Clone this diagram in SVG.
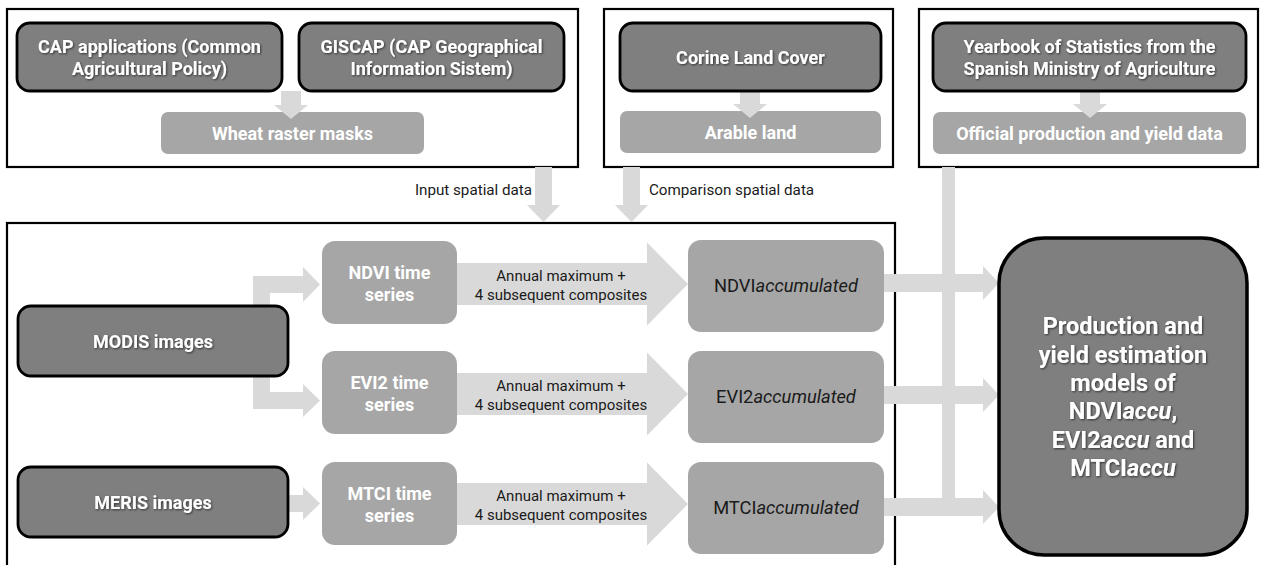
<svg xmlns="http://www.w3.org/2000/svg" width="1264" height="565" viewBox="0 0 1264 565">
<defs>
<filter id="sh" x="-10%" y="-20%" width="120%" height="140%">
<feDropShadow dx="1" dy="1" stdDeviation="0.8" flood-color="#000" flood-opacity="0.6"/>
</filter>
<style>
.frame{fill:#fff;stroke:#000;stroke-width:2.2}
.dark{fill:#7f7f7f;stroke:#000;stroke-width:2.8}
.mid{fill:#a6a6a6}
.arr{fill:#d9d9d9}
.wt{font-family:Roboto,"Liberation Sans",sans-serif;font-weight:bold;fill:#fff;text-anchor:middle}
.dt{font-family:Roboto,"Liberation Sans",sans-serif;fill:#1a1a1a;text-anchor:middle}
</style>
</defs>
<rect width="1264" height="565" fill="#fff"/>

<!-- frames -->
<g id="frame-input">
<rect class="frame" x="7" y="9" width="571" height="158"/>
</g>
<g id="frame-comparison">
<rect class="frame" x="604" y="9" width="289" height="158"/>
</g>
<g id="frame-official">
<rect class="frame" x="919" y="9" width="339" height="158"/>
</g>
<g id="frame-processing">
<rect class="frame" x="7" y="223" width="888" height="360"/>
</g>

<!-- connectors -->
<g id="connectors">
<polygon class="arr" points="535,167 552,167 552,205 560,205 543.5,222 527,205 535,205"/>
<polygon class="arr" points="623,167 640,167 640,205 648,205 631.5,222 615,205 623,205"/>
<rect class="arr" x="942" y="167" width="13" height="349"/>
<polygon class="arr" points="253,276 303,276 303,267 320,284.5 303,302 303,293 270,293 270,392 303,392 303,384 320,400.5 303,417 303,409 253,409"/>
<polygon class="arr" points="280,495 303,495 303,487 320,503.5 303,520 303,512 280,512"/>
<polygon class="arr" points="457,263 647,263 647,242.5 688,284 647,325.5 647,305 457,305"/>
<polygon class="arr" points="457,373 647,373 647,352.5 688,394 647,435.5 647,415 457,415"/>
<polygon class="arr" points="457,483 647,483 647,462.5 688,504 647,545.5 647,525 457,525"/>
<polygon class="arr" points="884,274 983,274 983,266 999,283 983,300 983,292 884,292"/>
<polygon class="arr" points="884,386 983,386 983,378 999,395 983,412 983,404 884,404"/>
<polygon class="arr" points="884,498 983,498 983,490 999,507 983,524 983,516 884,516"/>
<text class="dt" x="473.5" y="195" font-size="15.2">Input spatial data</text>
<text class="dt" x="731.5" y="195" font-size="15.2">Comparison spatial data</text>
</g>

<!-- top nodes -->
<g id="wheat-masks">
<rect class="mid" x="161" y="112" width="263" height="42" rx="7"/>
<text class="wt" x="292.5" y="139.5" font-size="18">Wheat raster masks</text>
</g>
<g id="cap-to-wheat">
<polygon class="arr" points="281,91 301,91 301,105 308,105 291,119 274,105 281,105"/>
</g>
<g id="cap-applications">
<rect class="dark" x="17" y="23" width="265" height="68" rx="13"/>
<text class="wt" x="149.5" y="53" font-size="18" filter="url(#sh)">CAP applications (Common</text>
<text class="wt" x="149.5" y="75" font-size="18" filter="url(#sh)">Agricultural Policy)</text>
</g>
<g id="giscap">
<rect class="dark" x="299" y="23" width="265" height="68" rx="13"/>
<text class="wt" x="431.5" y="53" font-size="18" filter="url(#sh)">GISCAP (CAP Geographical</text>
<text class="wt" x="431.5" y="75" font-size="18" filter="url(#sh)">Information Sistem)</text>
</g>

<g id="arable-land">
<rect class="mid" x="620" y="111" width="261" height="42" rx="7"/>
<polygon class="arr" points="740,91 760,91 760,104 767,104 750,118 733,104 740,104"/>
<text class="wt" x="750.5" y="138.5" font-size="18">Arable land</text>
</g>
<g id="corine">
<rect class="dark" x="620" y="23" width="261" height="68" rx="13"/>
<text class="wt" x="750.5" y="63.5" font-size="18" filter="url(#sh)">Corine Land Cover</text>
</g>

<g id="official-data">
<rect class="mid" x="933" y="112" width="313" height="42" rx="7"/>
<polygon class="arr" points="1080,91 1100,91 1100,104 1107,104 1090,118 1073,104 1080,104"/>
<text class="wt" x="1089.5" y="139.5" font-size="18">Official production and yield data</text>
</g>
<g id="yearbook">
<rect class="dark" x="933" y="23" width="313" height="68" rx="13"/>
<text class="wt" x="1089.5" y="53" font-size="18" filter="url(#sh)">Yearbook of Statistics from the</text>
<text class="wt" x="1089.5" y="75" font-size="18" filter="url(#sh)">Spanish Ministry of Agriculture</text>
</g>

<!-- processing nodes -->
<g id="modis">
<rect class="dark" x="18" y="306" width="270" height="70" rx="13"/>
<text class="wt" x="153" y="347.5" font-size="18" filter="url(#sh)">MODIS images</text>
</g>
<g id="meris">
<rect class="dark" x="18" y="467" width="270" height="70" rx="13"/>
<text class="wt" x="153" y="508.5" font-size="18" filter="url(#sh)">MERIS images</text>
</g>

<g id="ndvi-ts">
<rect class="mid" x="322" y="241" width="135" height="83" rx="13"/>
<text class="wt" x="389.5" y="278.5" font-size="18">NDVI time</text>
<text class="wt" x="389.5" y="300.5" font-size="18">series</text>
</g>
<g id="evi2-ts">
<rect class="mid" x="322" y="351" width="135" height="83" rx="13"/>
<text class="wt" x="389.5" y="388.5" font-size="18">EVI2 time</text>
<text class="wt" x="389.5" y="410.5" font-size="18">series</text>
</g>
<g id="mtci-ts">
<rect class="mid" x="322" y="462" width="135" height="83" rx="13"/>
<text class="wt" x="389.5" y="499.5" font-size="18">MTCI time</text>
<text class="wt" x="389.5" y="521.5" font-size="18">series</text>
</g>

<g id="labels-annual">
<text class="dt" x="561" y="281" font-size="15">Annual maximum +</text>
<text class="dt" x="561" y="300" font-size="15">4 subsequent composites</text>
<text class="dt" x="561" y="391" font-size="15">Annual maximum +</text>
<text class="dt" x="561" y="410" font-size="15">4 subsequent composites</text>
<text class="dt" x="561" y="501" font-size="15">Annual maximum +</text>
<text class="dt" x="561" y="520" font-size="15">4 subsequent composites</text>
</g>

<g id="ndvi-acc">
<rect class="mid" x="688" y="240" width="196" height="92" rx="13"/>
<text class="dt" x="786" y="292" font-size="18.3">NDVI<tspan font-style="italic">accumulated</tspan></text>
</g>
<g id="evi2-acc">
<rect class="mid" x="688" y="351" width="196" height="92" rx="13"/>
<text class="dt" x="786" y="403" font-size="18.3">EVI2<tspan font-style="italic">accumulated</tspan></text>
</g>
<g id="mtci-acc">
<rect class="mid" x="688" y="462" width="196" height="92" rx="13"/>
<text class="dt" x="786" y="514" font-size="18.3">MTCI<tspan font-style="italic">accumulated</tspan></text>
</g>

<g id="models">
<rect x="999" y="238" width="248" height="317" rx="45" fill="#7f7f7f" stroke="#000" stroke-width="3.5"/>
<g filter="url(#sh)">
<text class="wt" x="1123" y="334" font-size="23.5">Production and</text>
<text class="wt" x="1123" y="363" font-size="23.5">yield estimation</text>
<text class="wt" x="1123" y="391" font-size="23.5">models of</text>
<text class="wt" x="1123" y="419" font-size="23.5">NDVI<tspan font-style="italic">accu</tspan>,</text>
<text class="wt" x="1123" y="448" font-size="23.5">EVI2<tspan font-style="italic">accu</tspan> and</text>
<text class="wt" x="1123" y="476" font-size="23.5">MTCI<tspan font-style="italic">accu</tspan></text>
</g>
</g>
</svg>
